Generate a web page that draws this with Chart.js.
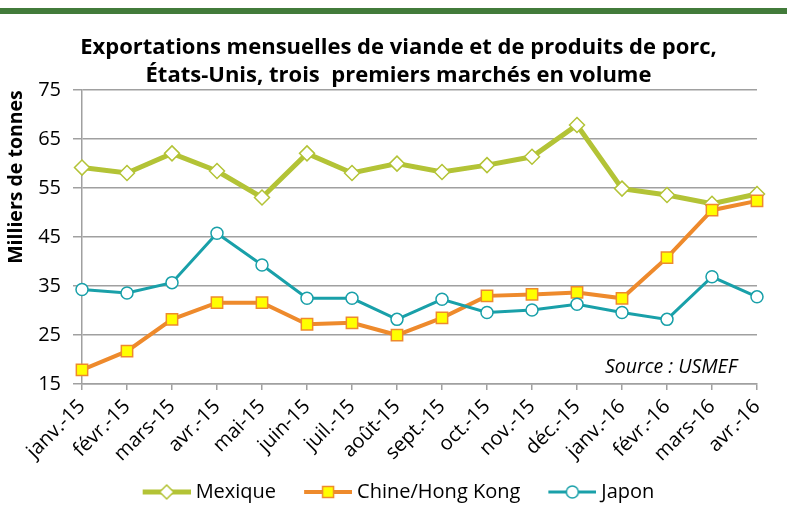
<!DOCTYPE html>
<html>
<head>
<meta charset="utf-8">
<script src="https://cdn.jsdelivr.net/npm/chart.js@4.4.0/dist/chart.umd.min.js"></script>
<style>
  body { margin: 0; background: #fff; }
  #wrap { width: 787px; height: 521px; }
</style>
</head>
<body>
<div id="wrap"><canvas id="myChart" width="787" height="521"></canvas></div>
<script>
const months = ['janv.-15', 'févr.-15', 'mars-15', 'avr.-15', 'mai-15', 'juin-15', 'juil.-15', 'août-15',
  'sept.-15', 'oct.-15', 'nov.-15', 'déc.-15', 'janv.-16', 'févr.-16', 'mars-16', 'avr.-16'];

const mexique = [59.2, 58.1, 62.1, 58.5, 53.1, 62.1, 58.1, 60.0, 58.3, 59.7, 61.4, 67.9, 54.9, 53.6, 51.8, 53.8];
const chine = [17.9, 21.7, 28.2, 31.6, 31.6, 27.2, 27.5, 25.0, 28.5, 33.0, 33.3, 33.7, 32.5, 40.8, 50.5, 52.4];
const japon = [34.3, 33.6, 35.7, 45.8, 39.3, 32.5, 32.5, 28.2, 32.3, 29.6, 30.1, 31.3, 29.6, 28.2, 36.9, 32.8];

const titleLines = ['Exportations mensuelles de viande et de produits de porc,',
  'États-Unis, trois  premiers marchés en volume'];
const yTicks = { min: 15, max: 75, step: 10 };

const vert = '#b3c336';
const orange = '#ee8a2c';
const teal = '#19a0a9';
const gris = '#a0a0a0';

Chart.defaults.font.family = "'Open Sans'";
Chart.defaults.color = '#000';

// petite icone de legende : trait + marqueur (partie gauche transparente pour l'espacement)
function iconeLegende(couleur, epaisseur, forme) {
  let c = document.createElement('canvas');
  c.width = 71; c.height = 20;
  let ctx = c.getContext('2d');
  let cx = 47;
  ctx.strokeStyle = couleur;
  ctx.lineWidth = epaisseur;
  ctx.beginPath();
  ctx.moveTo(23, 10); ctx.lineTo(71, 10);
  ctx.stroke();
  ctx.lineWidth = 1.5;
  ctx.beginPath();
  if (forme == 'diamond') {
    ctx.fillStyle = '#fff';
    ctx.moveTo(cx, 3); ctx.lineTo(cx + 7, 10); ctx.lineTo(cx, 17); ctx.lineTo(cx - 7, 10); ctx.closePath();
  } else if (forme == 'square') {
    ctx.fillStyle = '#ffff00';
    ctx.rect(cx - 5.5, 4.5, 11, 11);
  } else {
    ctx.fillStyle = '#fff';
    ctx.arc(cx, 10, 6, 0, Math.PI * 2);
  }
  ctx.fill();
  ctx.stroke();
  return c;
}

const icones = [
  iconeLegende(vert, 5, 'diamond'),
  iconeLegende(orange, 4, 'square'),
  iconeLegende(teal, 3, 'circle')
];

const decor = {
  id: 'decor',
  afterLayout(chart) {
    chart.legend.left += 11;
    chart.legend.right += 11;
    chart.titleBlock.left += 20;
    chart.titleBlock.right += 20;
  },
  beforeDraw(chart) {
    let ctx = chart.ctx;
    ctx.save();
    ctx.fillStyle = '#427b3a';
    ctx.fillRect(0, 8, chart.width, 6);
    ctx.restore();
  },
  afterDraw(chart) {
    let ctx = chart.ctx;
    let a = chart.chartArea;
    ctx.save();
    ctx.font = "italic 19.5px 'Open Sans'";
    ctx.fillStyle = '#000';
    ctx.textAlign = 'right';
    ctx.textBaseline = 'middle';
    ctx.fillText('Source : USMEF', a.right - 20, a.bottom - 17);
    ctx.restore();
  }
};

const config = {
  type: 'line',
  data: {
    labels: months,
    datasets: [
      {
        label: 'Mexique', data: mexique, order: 2,
        borderColor: vert, borderWidth: 5,
        pointStyle: 'rectRot', pointRadius: 7.5, pointBorderWidth: 1.5,
        pointBackgroundColor: '#fff', pointBorderColor: vert
      },
      {
        label: 'Chine/Hong Kong', data: chine, order: 1,
        borderColor: orange, borderWidth: 4,
        pointStyle: 'rect', pointRadius: 8, pointBorderWidth: 1.5,
        pointBackgroundColor: '#ffff00', pointBorderColor: orange
      },
      {
        label: 'Japon', data: japon, order: 0,
        borderColor: teal, borderWidth: 3,
        pointStyle: 'circle', pointRadius: 6, pointBorderWidth: 1.5,
        pointBackgroundColor: '#fff', pointBorderColor: teal
      }
    ]
  },
  options: {
    responsive: false,
    animation: false,
    devicePixelRatio: 1,
    layout: { padding: { left: 0, right: 30, top: 0, bottom: 9 } },
    elements: { line: { tension: 0 } },
    plugins: {
      tooltip: { enabled: false },
      title: {
        display: true,
        text: titleLines,
        font: { size: 22, weight: 'bold', lineHeight: 1.3 },
        color: '#000',
        padding: { top: 33, bottom: 0 }
      },
      legend: {
        position: 'bottom',
        labels: {
          usePointStyle: true,
          pointStyleWidth: 61,
          boxHeight: 20,
          padding: 10,
          font: { size: 20 },
          color: '#000',
          sort: (a, b) => a.datasetIndex - b.datasetIndex,
          generateLabels(chart) {
            let items = Chart.defaults.plugins.legend.labels.generateLabels(chart);
            items.forEach(it => { it.pointStyle = icones[it.datasetIndex]; });
            return items;
          }
        }
      }
    },
    scales: {
      x: {
        offset: false,
        afterFit(s) { s.height = 88; },
        grid: { display: true, drawOnChartArea: false, drawTicks: true, tickLength: 6, color: gris, lineWidth: 1.5 },
        border: { display: true, color: gris, width: 1.5 },
        ticks: { minRotation: 45, maxRotation: 45, autoSkip: false, font: { size: 20 }, color: '#000', padding: 5 }
      },
      y: {
        min: yTicks.min,
        max: yTicks.max,
        afterFit(s) { s.width = 82; },
        grid: { color: gris, lineWidth: 1.5, tickLength: 9 },
        border: { display: true, color: gris, width: 1.5 },
        ticks: { stepSize: yTicks.step, font: { size: 20 }, color: '#000', padding: 12 },
        title: {
          display: true,
          text: 'Milliers de tonnes',
          align: 'end',
          font: { size: 19.5, weight: 'bold' },
          color: '#000',
          padding: { top: 5, bottom: 0 }
        }
      }
    }
  },
  plugins: [decor]
};

let myChart = document.getElementById('myChart');
let graficar = new Chart(myChart, config);
</script>
</body>
</html>
